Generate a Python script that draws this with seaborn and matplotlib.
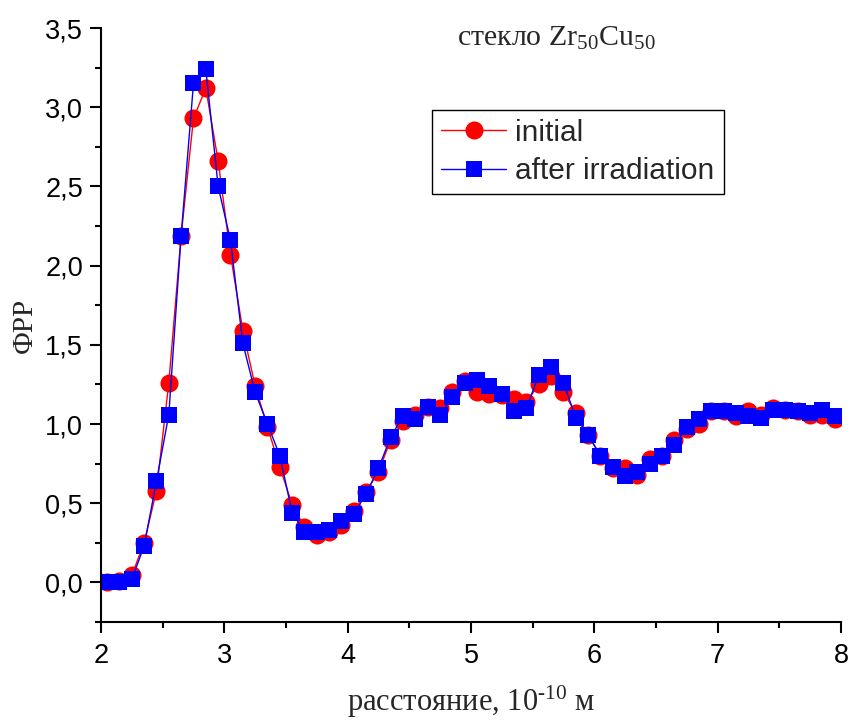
import numpy as np
import pandas as pd
import matplotlib
matplotlib.use("Agg")
import matplotlib.pyplot as plt
import seaborn as sns
from matplotlib.ticker import FuncFormatter, MultipleLocator

x_vals = [2.05, 2.15, 2.25, 2.35, 2.45, 2.55, 2.65, 2.75, 2.85, 2.95,
          3.05, 3.15, 3.25, 3.35, 3.45, 3.55, 3.65, 3.75, 3.85, 3.95,
          4.05, 4.15, 4.25, 4.35, 4.45, 4.55, 4.65, 4.75, 4.85, 4.95,
          5.05, 5.15, 5.25, 5.35, 5.45, 5.55, 5.65, 5.75, 5.85, 5.95,
          6.05, 6.15, 6.25, 6.35, 6.45, 6.55, 6.65, 6.75, 6.85, 6.95,
          7.05, 7.15, 7.25, 7.35, 7.45, 7.55, 7.65, 7.75, 7.85, 7.95]

initial = [0.00, 0.01, 0.045, 0.25, 0.58, 1.26, 2.19, 2.93, 3.12, 2.66,
           2.07, 1.59, 1.24, 0.98, 0.73, 0.49, 0.35, 0.30, 0.32, 0.36,
           0.45, 0.57, 0.70, 0.90, 1.02, 1.06, 1.11, 1.10, 1.20, 1.27,
           1.20, 1.19, 1.18, 1.16, 1.14, 1.25, 1.30, 1.20, 1.07, 0.93,
           0.80, 0.72, 0.72, 0.68, 0.78, 0.80, 0.90, 0.97, 1.00, 1.08,
           1.08, 1.05, 1.08, 1.06, 1.10, 1.09, 1.08, 1.06, 1.06, 1.03]

irradiated = [0.00, 0.00, 0.02, 0.23, 0.64, 1.06, 2.19, 3.15, 3.24, 2.50,
              2.16, 1.51, 1.20, 1.00, 0.80, 0.44, 0.32, 0.32, 0.33, 0.39,
              0.43, 0.56, 0.72, 0.92, 1.05, 1.03, 1.11, 1.06, 1.17, 1.26,
              1.28, 1.24, 1.19, 1.08, 1.10, 1.31, 1.36, 1.26, 1.04, 0.93,
              0.80, 0.73, 0.67, 0.70, 0.75, 0.80, 0.87, 0.98, 1.03, 1.08,
              1.08, 1.07, 1.05, 1.04, 1.09, 1.09, 1.08, 1.07, 1.09, 1.05]

series_names = ["initial", "after irradiation"]

df = pd.DataFrame({
    "x": x_vals * 2,
    "y": initial + irradiated,
    "series": [series_names[0]] * len(x_vals) + [series_names[1]] * len(x_vals),
})

sns.set_theme(style="ticks")
plt.rcParams["font.family"] = ["Liberation Sans", "DejaVu Sans"]

fig = plt.figure(figsize=(8.5, 7.2), dpi=100)
ax = fig.add_axes([0.1188, 0.1361, 0.8706, 0.825])

colors = {"initial": "#ff0000", "after irradiation": "#0000ff"}
markers = {"initial": "o", "after irradiation": "s"}
sizes = {"initial": 13, "after irradiation": 12}
for name in series_names:
    sub = df[df["series"] == name]
    sns.lineplot(data=sub, x="x", y="y", ax=ax, color=colors[name],
                 marker=markers[name], markersize=sizes[name],
                 markeredgewidth=0, linewidth=1.0, label=name,
                 markeredgecolor=colors[name])

ax.set_xlim(2, 8)
ax.set_ylim(-0.25, 3.5)
ax.xaxis.set_major_locator(MultipleLocator(1))
ax.xaxis.set_minor_locator(MultipleLocator(0.5))
ax.yaxis.set_major_locator(MultipleLocator(0.5))
ax.yaxis.set_minor_locator(MultipleLocator(0.25))
ax.yaxis.set_major_formatter(FuncFormatter(lambda v, p: f"{v:.1f}".replace(".", ",")))
ax.xaxis.set_major_formatter(FuncFormatter(lambda v, p: f"{v:.0f}"))

for s in ["top", "right"]:
    ax.spines[s].set_visible(False)
for s in ["left", "bottom"]:
    ax.spines[s].set_linewidth(1.5)
    ax.spines[s].set_color("black")

ax.tick_params(axis="both", which="major", direction="out", length=8, width=1.5,
               labelsize=19.5, colors="black", pad=5)
ax.tick_params(axis="x", which="major", pad=7)
ax.tick_params(axis="both", which="minor", direction="out", length=4.5, width=1.5,
               colors="black")

serif = ["Liberation Serif", "DejaVu Serif"]
ax.set_xlabel("расстояние, $\\mathregular{10^{\u2010 10}}$ м", fontsize=22,
              family=serif, labelpad=11)
ax.set_ylabel("ФРР", fontsize=21, family=serif, labelpad=5)

ax.text(0.615, 0.982, "стекло Zr$\\mathregular{_{50}}$Cu$\\mathregular{_{50}}$",
        transform=ax.transAxes, ha="center", va="center", fontsize=21.5,
        family=serif)

leg = ax.legend(loc="upper left", bbox_to_anchor=(0.447, 0.862), fontsize=21.5,
                frameon=True, fancybox=False, edgecolor="black", framealpha=1,
                handlelength=2.2, handletextpad=0.3, borderpad=0.3,
                labelspacing=0.35, borderaxespad=0)
leg.get_frame().set_linewidth(1.0)

ax.set_facecolor("white")
fig.patch.set_facecolor("white")
fig.savefig("out.png", dpi=100)
